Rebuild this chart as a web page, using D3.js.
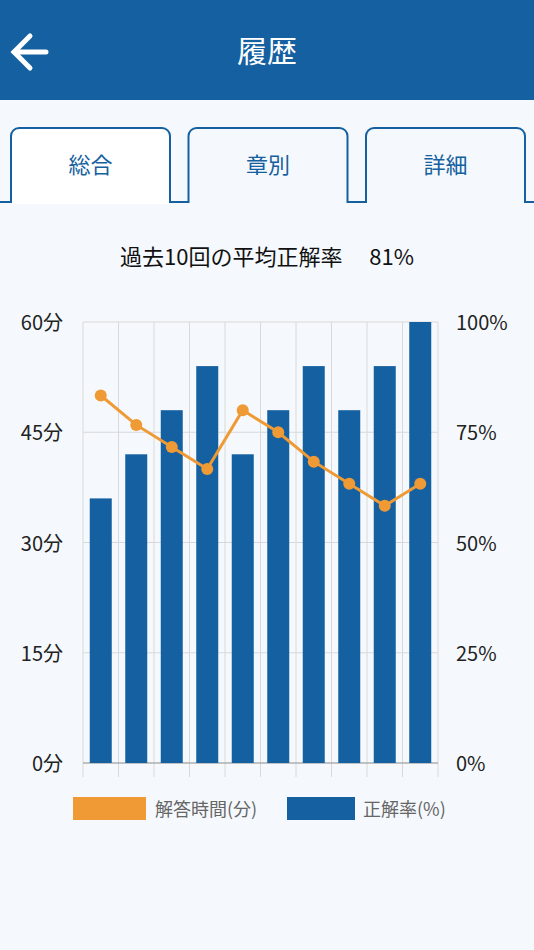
<!DOCTYPE html>
<html><head><meta charset="utf-8">
<script src="https://cdn.jsdelivr.net/npm/d3@7"></script>
<style>body{margin:0;background:#f5f9fd;font-family:"Noto Sans CJK JP",sans-serif}</style>
</head><body><div id="c"></div>
<script>
// data
const sessions = [1,2,3,4,5,6,7,8,9,10];
const accuracy = [60,70,80,90,70,80,90,80,90,100];   // 正解率(%)
const minutes = [50,46,43,40,48,45,41,38,35,38];     // 解答時間(分)
const minTicks = [0,15,30,45,60];
const pctTicks = [0,25,50,75,100];
const tabs = ["総合","章別","詳細"];

const W = 534, H = 950, blue = "#1560a0", orange = "#ef9a35";
const svg = d3.select("#c").append("svg").attr("width", W).attr("height", H);
svg.append("rect").attr("width", W).attr("height", H).attr("fill", "#f5f9fd");

// header
svg.append("rect").attr("width", W).attr("height", 100).attr("fill", blue);
svg.append("text").attr("x", W/2).attr("y", 62).attr("text-anchor", "middle")
  .attr("fill", "#fff").attr("font-size", 30).text("履歴");
svg.append("path").attr("d", "M46,52H14M30,36L14,52L30,68")
  .attr("stroke", "#fff").attr("stroke-width", 5).attr("fill", "none").attr("stroke-linecap", "round");

// tabs
svg.append("line").attr("x1", 0).attr("x2", W).attr("y1", 202).attr("y2", 202)
  .attr("stroke", blue).attr("stroke-width", 2);
tabs.forEach((t, i) => {
  const x = 11 + i * 177.5;
  svg.append("path").attr("d", `M${x},203V136a8,8 0 0 1 8,-8H${x+151}a8,8 0 0 1 8,8V203`)
    .attr("fill", i === 0 ? "#fff" : "#f5f9fd").attr("stroke", blue).attr("stroke-width", 2);
  svg.append("text").attr("x", x + 79.5).attr("y", 173).attr("text-anchor", "middle")
    .attr("fill", blue).attr("font-size", 22).text(t);
});
svg.append("rect").attr("x", 12).attr("y", 200).attr("width", 157).attr("height", 4).attr("fill", "#fff");

svg.append("text").attr("x", 267).attr("y", 265).attr("text-anchor", "middle")
  .attr("font-size", 22).attr("fill", "#111").text("過去10回の平均正解率　 81%");

// chart
const m = {l: 83, r: 438, t: 322, b: 763};
const x = d3.scaleBand().domain(sessions).range([m.l, m.r]);
const yL = d3.scaleLinear().domain([0, 60]).range([m.b, m.t]);
const yR = d3.scaleLinear().domain([0, 100]).range([m.b, m.t]);
const g = svg.append("g");

const bounds = sessions.map(s => x(s)).concat([m.r]);
g.selectAll(".vg").data(bounds).join("line")
  .attr("x1", d => d).attr("x2", d => d).attr("y1", m.t).attr("y2", m.b + 14)
  .attr("stroke", "#d8d8d8");
g.selectAll(".hg").data(minTicks).join("line")
  .attr("x1", m.l).attr("x2", m.r).attr("y1", d => yL(d)).attr("y2", d => yL(d))
  .attr("stroke", "#d8d8d8");
g.append("line").attr("x1", m.l).attr("x2", m.r).attr("y1", m.b).attr("y2", m.b).attr("stroke", "#999");

g.selectAll(".bar").data(sessions).join("rect")
  .attr("x", d => x(d) + x.bandwidth()/2 - 11).attr("width", 22)
  .attr("y", (d, i) => yR(accuracy[i])).attr("height", (d, i) => m.b - yR(accuracy[i]))
  .attr("fill", blue);

const line = d3.line().x(d => x(d[0]) + x.bandwidth()/2).y(d => yL(d[1]));
const pts = sessions.map((s, i) => [s, minutes[i]]);
g.append("path").datum(pts).attr("d", line).attr("fill", "none")
  .attr("stroke", orange).attr("stroke-width", 3);
g.selectAll(".pt").data(pts).join("circle")
  .attr("cx", d => x(d[0]) + x.bandwidth()/2).attr("cy", d => yL(d[1])).attr("r", 6).attr("fill", orange);

g.selectAll(".lt").data(minTicks).join("text")
  .attr("x", 63).attr("y", d => yL(d) + 8).attr("text-anchor", "end")
  .attr("font-size", 20).attr("fill", "#222").text(d => d + "分");
g.selectAll(".rt").data(pctTicks).join("text")
  .attr("x", 456).attr("y", d => yR(d) + 8)
  .attr("font-size", 20).attr("fill", "#222").text(d => d + "%");

// legend
svg.append("rect").attr("x", 73).attr("y", 797).attr("width", 73).attr("height", 23).attr("fill", orange);
svg.append("text").attr("x", 155).attr("y", 816).attr("font-size", 18).attr("fill", "#666").text("解答時間(分)");
svg.append("rect").attr("x", 287).attr("y", 797).attr("width", 68).attr("height", 23).attr("fill", blue);
svg.append("text").attr("x", 363).attr("y", 816).attr("font-size", 18).attr("fill", "#666").text("正解率(%)");
</script></body></html>
